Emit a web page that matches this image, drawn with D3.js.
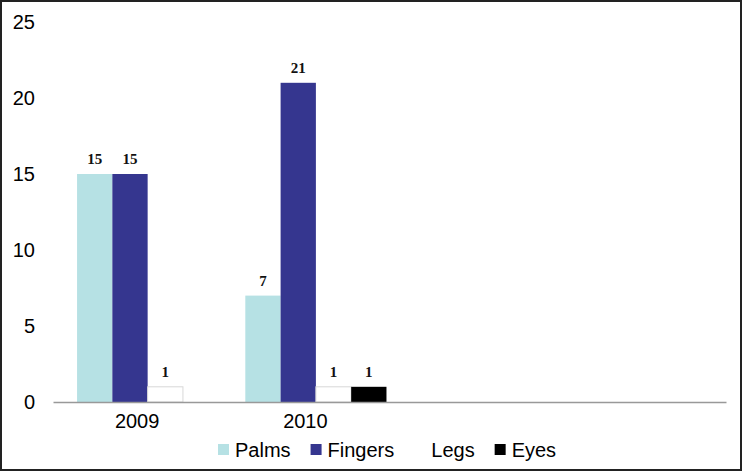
<!DOCTYPE html>
<html>
<head>
<meta charset="utf-8">
<script src="https://cdn.jsdelivr.net/npm/d3@7"></script>
<style>
  html, body { margin: 0; padding: 0; background: #fff; }
  svg { display: block; }
</style>
</head>
<body>
<svg id="chart" width="742" height="471"></svg>
<script>
// ---- data ----
const categories = ["2009", "2010", "", ""];
const seriesNames = ["Palms", "Fingers", "Legs", "Eyes"];
const palms   = [15, 7, null, null];
const fingers = [15, 21, null, null];
const legs    = [1, 1, null, null];
const eyes    = [0, 1, null, null];
const yTicks  = [0, 5, 10, 15, 20, 25];
const seriesColors = ["#b6e1e4", "#35368f", "#ffffff", "#000000"];

// ---- layout ----
const W = 742, H = 471;
const svg = d3.select("#chart");

svg.append("rect")
  .attr("x", 1).attr("y", 1).attr("width", W - 2).attr("height", H - 2)
  .attr("fill", "#fff").attr("stroke", "#222").attr("stroke-width", 2);

const x0 = d3.scaleBand().domain(d3.range(categories.length)).range([53, 726]).padding(0);
const bw = x0.bandwidth();
const x1 = d3.scaleBand().domain(seriesNames).range([bw * 0.143, bw * 0.982]).padding(0);
const y = d3.scaleLinear().domain([0, 25]).range([402, 22]);

const color = d3.scaleOrdinal().domain(seriesNames).range(seriesColors);
const seriesValues = [palms, fingers, legs, eyes];

// y axis (labels only)
const yAxis = svg.append("g").attr("transform", "translate(40,0)")
  .call(d3.axisLeft(y).tickValues(yTicks).tickSize(0).tickPadding(5));
yAxis.select(".domain").remove();
yAxis.selectAll("text")
  .attr("font-family", "Liberation Sans, Arial, sans-serif")
  .attr("font-size", 20).attr("fill", "#000");

// bars
const data = [];
categories.forEach((c, i) => {
  seriesNames.forEach((s, j) => {
    const v = seriesValues[j][i];
    if (v !== null && v !== undefined) data.push({ i, s, v });
  });
});

svg.append("g").selectAll("rect")
  .data(data.filter(d => d.v > 0))
  .join("rect")
  .attr("x", d => x0(d.i) + x1(d.s))
  .attr("width", x1.bandwidth())
  .attr("y", d => y(d.v))
  .attr("height", d => y(0) - y(d.v))
  .attr("fill", d => color(d.s))
  .attr("stroke", d => d.s === "Legs" ? "#d8d8d8" : "none")
  .attr("stroke-width", 1);

// x axis
const xAxis = svg.append("g").attr("transform", `translate(0,${y(0)})`)
  .call(d3.axisBottom(x0).tickSize(0).tickPadding(12).tickFormat(i => categories[i]));
xAxis.select(".domain").attr("stroke", "#999").attr("stroke-width", 1.5);
xAxis.selectAll("text")
  .attr("font-family", "Liberation Sans, Arial, sans-serif")
  .attr("font-size", 20).attr("fill", "#000");

// value labels
svg.append("g").selectAll("text")
  .data(data.filter(d => d.v > 0))
  .join("text")
  .attr("x", d => x0(d.i) + x1(d.s) + x1.bandwidth() / 2)
  .attr("y", d => y(d.v) - 10)
  .attr("text-anchor", "middle")
  .attr("font-family", "Liberation Serif, Times New Roman, serif")
  .attr("font-weight", "bold")
  .attr("font-size", 15)
  .attr("fill", "#111")
  .text(d => d.v);

// legend
const legend = svg.append("g");
let lx = 218;
seriesNames.forEach(s => {
  const g = legend.append("g");
  g.append("rect")
    .attr("x", lx).attr("y", 444).attr("width", 11).attr("height", 11)
    .attr("fill", color(s));
  const t = g.append("text")
    .attr("x", lx + 17).attr("y", 457)
    .attr("font-family", "Liberation Sans, Arial, sans-serif")
    .attr("font-size", 20).attr("fill", "#000")
    .text(s);
  lx += 17 + t.node().getComputedTextLength() + 20;
});
</script>
</body>
</html>
